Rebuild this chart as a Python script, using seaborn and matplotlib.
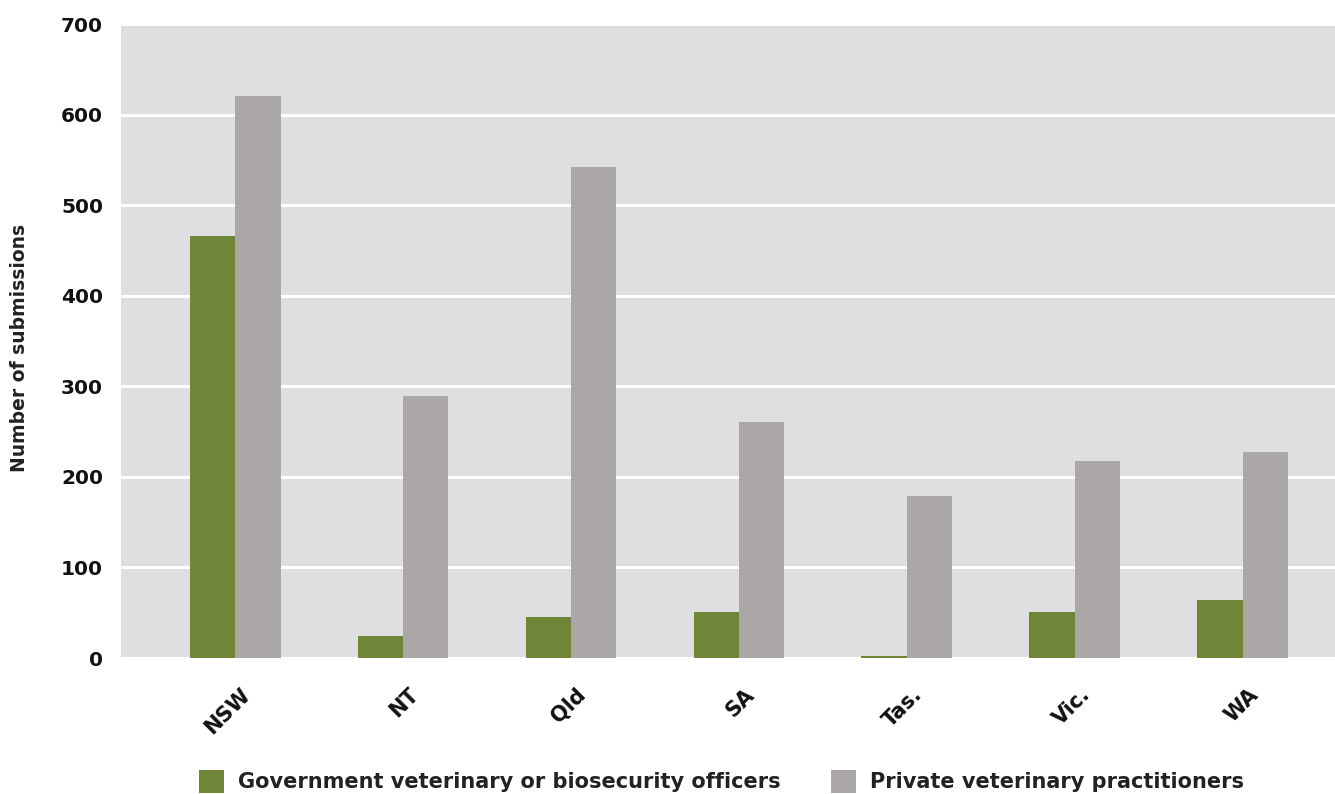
import matplotlib
matplotlib.use("Agg")
import matplotlib.pyplot as plt
from matplotlib.transforms import ScaledTranslation
import seaborn as sns
import pandas as pd

# Submissions by jurisdiction and submitter type
states = ["NSW", "NT", "Qld", "SA", "Tas.", "Vic.", "WA"]
government = [466, 24, 45, 51, 2, 51, 64]
private = [620, 289, 542, 261, 179, 217, 227]
series_names = ["Government veterinary or biosecurity officers",
                "Private veterinary practitioners"]
y_ticks = [0, 100, 200, 300, 400, 500, 600, 700]

GREEN = "#6F8537"
GREY = "#ABA7A6"
PANEL = "#DFDFE1"

df = pd.DataFrame({
    "State": states * 2,
    "Submissions": government + private,
    "Group": [series_names[0]] * len(states) + [series_names[1]] * len(states),
})

sns.set_theme(style="white")
plt.rcParams["font.family"] = ["DejaVu Sans"]

fig = plt.figure(figsize=(13.35, 7.94), dpi=100)
ax = fig.add_axes([121 / 1335, 1 - 658 / 794, 1 - 121 / 1335, (658 - 24) / 794])
ax.set_facecolor(PANEL)

sns.barplot(data=df, x="State", y="Submissions", hue="Group", order=states,
            hue_order=series_names, palette=[GREEN, GREY], width=0.54,
            saturation=1, linewidth=0, ax=ax, legend=True)

ax.set_ylim(0, 700)
ax.set_xlim(-0.68, 6.55)
ax.set_yticks(y_ticks)
ax.set_yticklabels([str(v) for v in y_ticks], fontsize=14.5, fontweight="bold",
                   color="#111111")
ax.yaxis.grid(True, color="white", linewidth=2.2)
ax.set_axisbelow(True)
for s in ax.spines.values():
    s.set_visible(False)
ax.tick_params(axis="y", length=0, pad=13)
ax.tick_params(axis="x", length=0, pad=19)

ax.set_xlabel("")
ax.set_ylabel("Number of submissions", fontsize=13.5, fontweight="bold",
              color="#222222")
ax.yaxis.set_label_coords(-0.076, 0.489)

offset = ScaledTranslation(0.05, 0, fig.dpi_scale_trans)
for lab in ax.get_xticklabels():
    lab.set_rotation(45)
    lab.set_ha("right")
    lab.set_va("top")
    lab.set_rotation_mode("anchor")
    lab.set_fontsize(15)
    lab.set_fontweight("bold")
    lab.set_color("#111111")
    lab.set_transform(lab.get_transform() + offset)

handles, labels = ax.get_legend_handles_labels()
ax.get_legend().remove()
fig.legend(handles, labels, loc="lower left", ncol=2,
           bbox_to_anchor=(184 / 1335, -0.017), frameon=False,
           prop={"weight": "bold", "size": 15},
           handlelength=1.2, handleheight=1.35, handletextpad=0.7,
           columnspacing=2.4, borderpad=0.2)
for t in fig.legends[0].get_texts():
    t.set_color("#222222")

fig.savefig("out.png", dpi=100)
